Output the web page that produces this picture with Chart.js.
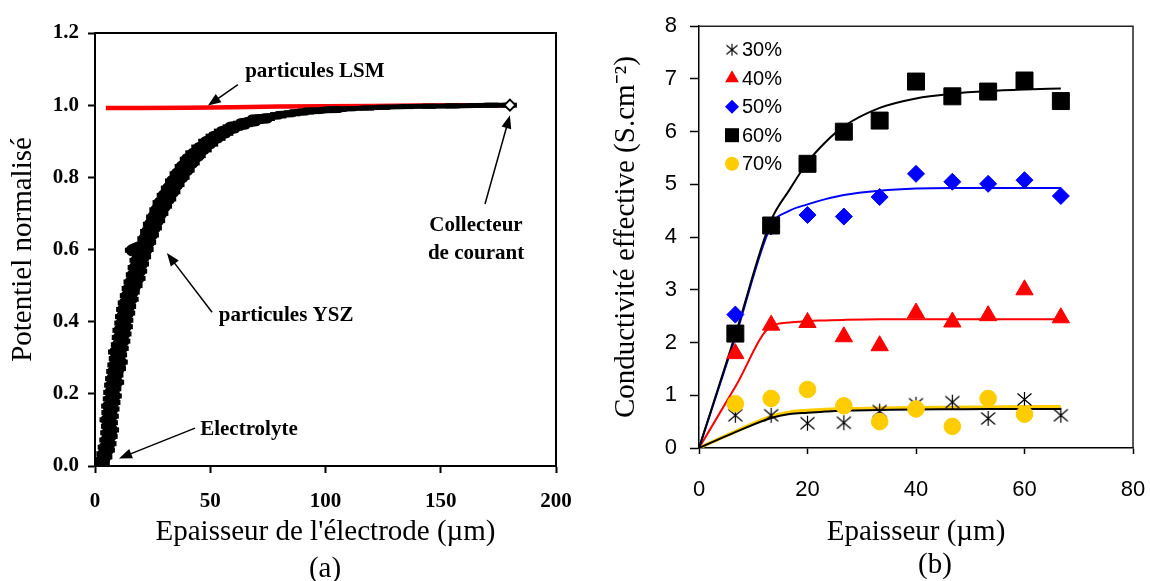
<!DOCTYPE html>
<html><head><meta charset="utf-8">
<script src="https://cdn.jsdelivr.net/npm/chart.js@4.4.1/dist/chart.umd.min.js"></script>
<style>
html,body{margin:0;padding:0;background:#fff;overflow:hidden;width:1150px;height:581px}
#ca{position:absolute;left:0;top:0}
#cb{position:absolute;left:575px;top:0}
</style>
</head><body>
<canvas id="ca" width="575" height="581"></canvas>
<canvas id="cb" width="575" height="581"></canvas>
<script>
// ---------- Panel (a) data ----------
const yszX = [2.0,3.4,2.6,4.5,3.6,5.6,4.2,6.3,4.9,6.8,5.3,7.4,5.6,6.9,5.0,7.3,5.8,7.6,5.7,8.0,6.4,8.6,6.6,8.4,7.0,9.6,7.4,9.3,7.9,10.4,8.4,11.2,9.0,10.9,8.7,11.6,9.9,12.3,10.3,12.8,10.6,13.4,11.4,13.6,11.7,14.4,12.2,14.8,12.9,15.9,13.8,16.4,14.6,17.6,15.4,18.9,16.4,19.6,17.2,20.4,18.0,21.3,19.2,22.4,16.0,20.3,23.5,21.4,24.7,22.6,26.0,23.8,27.4,25.2,28.8,26.6,30.4,28.0,32.2,29.8,34.0,31.6,35.8,33.4,38.0,35.4,40.2,37.6,42.4,39.8,45.0,42.2,47.6,44.8,50.4,47.8,53.6,51.0,57.0,54.6,61.0,58.4,65.4,63.0,70.0,68.0,75.0,73.0,80.0,79.0,86.0,85.0,92.0,91.0,98.0,100.0,106.0,110.0,118.0,125.0,135.0,145.0,155.0,165.0,172.0,180.0];
const yszY = [0.000,0.008,0.016,0.025,0.034,0.044,0.052,0.062,0.072,0.082,0.092,0.100,0.110,0.120,0.128,0.138,0.148,0.158,0.166,0.176,0.186,0.194,0.204,0.214,0.224,0.232,0.242,0.252,0.262,0.270,0.280,0.288,0.298,0.308,0.316,0.326,0.336,0.346,0.356,0.366,0.376,0.386,0.396,0.404,0.414,0.424,0.434,0.442,0.452,0.462,0.472,0.482,0.492,0.500,0.510,0.520,0.530,0.540,0.550,0.560,0.570,0.580,0.590,0.600,0.598,0.610,0.620,0.630,0.640,0.650,0.660,0.670,0.680,0.690,0.700,0.710,0.720,0.730,0.740,0.750,0.760,0.770,0.780,0.790,0.800,0.810,0.820,0.830,0.840,0.850,0.860,0.868,0.876,0.884,0.892,0.900,0.908,0.914,0.922,0.928,0.936,0.940,0.946,0.950,0.955,0.960,0.963,0.967,0.970,0.974,0.976,0.979,0.981,0.984,0.985,0.987,0.988,0.990,0.992,0.994,0.996,0.997,0.998,0.999,1.000,1.000];
const lsmX = [4.7,20,40,60,80,100,120,140,160,180];
const lsmY = [0.992,0.992,0.993,0.994,0.996,0.997,0.998,0.999,1.0,1.0];
const collX = [180];
const collY = [1.0];
const aXTicks = [0,50,100,150,200];
const aYTicks = [0,0.2,0.4,0.6,0.8,1.0,1.2];

// ---------- Panel (b) data ----------
const thickness = [6.7,13.3,20,26.7,33.3,40,46.7,53.3,60,66.7];
const s30 = [0.62,0.62,0.47,0.48,0.70,0.83,0.87,0.56,0.92,0.62];
const s40 = [1.79,2.33,2.38,2.11,1.94,2.56,2.39,2.51,3.00,2.47];
const s50 = [2.53,4.20,4.42,4.39,4.76,5.20,5.05,5.01,5.08,4.78];
const s60 = [2.17,4.22,5.39,6.00,6.21,6.95,6.67,6.76,6.97,6.58];
const s70 = [0.84,0.94,1.11,0.80,0.50,0.74,0.41,0.94,0.64,null];
const seriesLabels = ['30%','40%','50%','60%','70%'];
const fitX  = [0,6.7,13.3,16.7,20,23.3,26.7,33.3,40,46.7,53.3,60,66.7];
const fit30 = [0,0.30,0.57,0.645,0.67,0.69,0.71,0.72,0.73,0.735,0.74,0.74,0.74];
const fit40 = [0,1.16,2.31,2.38,2.41,2.42,2.43,2.44,2.44,2.44,2.44,2.44,2.44];
const fit50 = [0,2.10,4.22,4.50,4.62,4.72,4.80,4.88,4.92,4.93,4.93,4.93,4.93];
const fit60 = [0,2.15,4.32,4.90,5.42,5.80,6.10,6.45,6.63,6.72,6.77,6.80,6.82];
const fit70 = [0,0.31,0.60,0.68,0.71,0.73,0.74,0.755,0.765,0.77,0.775,0.78,0.78];
const bXTicks = [0,20,40,60,80];
const bYTicks = [0,1,2,3,4,5,6,7,8];

// ---------- helpers ----------
const serif = "'Liberation Serif','Times New Roman',serif";
const sans = "'Liberation Sans',Arial,sans-serif";
const pts = (xs, ys) => xs.map((x, i) => ({x, y: ys[i]})).filter(p => p.y !== null && p.y !== undefined);

function makeAsterisk(size, lw) {
  const c = document.createElement('canvas');
  c.width = size; c.height = size;
  const g = c.getContext('2d');
  g.strokeStyle = '#000'; g.lineWidth = lw;
  const m = 1.5, s = size - 1.5;
  g.beginPath();
  g.moveTo(m, m + 1); g.lineTo(s, s - 1);
  g.moveTo(s, m + 1); g.lineTo(m, s - 1);
  g.moveTo(size / 2, m - 0.5); g.lineTo(size / 2, s + 0.5);
  g.stroke();
  return c;
}
const asterisk = makeAsterisk(17, 1.2);
const asteriskSmall = makeAsterisk(14, 1.1);

function arrow(ctx, x1, y1, x2, y2) {
  const ang = Math.atan2(y2 - y1, x2 - x1);
  const L = 13, W = 5;
  ctx.beginPath();
  ctx.moveTo(x1, y1);
  ctx.lineTo(x2 - Math.cos(ang) * L * 0.8, y2 - Math.sin(ang) * L * 0.8);
  ctx.stroke();
  ctx.beginPath();
  ctx.moveTo(x2, y2);
  ctx.lineTo(x2 - Math.cos(ang) * L + Math.sin(ang) * W, y2 - Math.sin(ang) * L - Math.cos(ang) * W);
  ctx.lineTo(x2 - Math.cos(ang) * L - Math.sin(ang) * W, y2 - Math.sin(ang) * L + Math.cos(ang) * W);
  ctx.closePath();
  ctx.fill();
}

// annotation layout for panel (a) (data coordinates)
const arrowsA = [
  [62.0, 1.057, 49.0, 0.999],
  [169.2, 0.726, 180.0, 0.972],
  [50.8, 0.426, 31.2, 0.590],
  [43.4, 0.105, 10.4, 0.021]
];
const notesA = [
  {t: 'particules LSM', x: 95.4, y: 1.093},
  {t: 'Collecteur', x: 165.3, y: 0.665},
  {t: 'de courant', x: 165.3, y: 0.590},
  {t: 'particules YSZ', x: 82.9, y: 0.418},
  {t: 'Electrolyte', x: 66.8, y: 0.102}
];

const boxPlugin = (lw, color, caption, cx, cy) => ({
  id: 'box',
  afterDraw(chart) {
    const {ctx, chartArea: a} = chart;
    ctx.save();
    ctx.strokeStyle = color; ctx.lineWidth = lw;
    ctx.beginPath();
    ctx.moveTo(a.left, a.top); ctx.lineTo(a.right, a.top); ctx.lineTo(a.right, a.bottom);
    ctx.stroke();
    ctx.fillStyle = '#000';
    ctx.font = `29px ${serif}`;
    ctx.textAlign = 'center'; ctx.textBaseline = 'middle';
    ctx.fillText(caption, cx, cy);
    ctx.restore();
  }
});

const annotA = {
  id: 'annotA',
  afterDatasetsDraw(chart) {
    const {ctx, scales: {x, y}} = chart;
    ctx.save();
    ctx.strokeStyle = '#000'; ctx.fillStyle = '#000'; ctx.lineWidth = 1.5;
    arrowsA.forEach(a => arrow(ctx, x.getPixelForValue(a[0]), y.getPixelForValue(a[1]), x.getPixelForValue(a[2]), y.getPixelForValue(a[3])));
    ctx.font = `bold 21px ${serif}`;
    ctx.textAlign = 'center'; ctx.textBaseline = 'middle';
    notesA.forEach(n => ctx.fillText(n.t, x.getPixelForValue(n.x), y.getPixelForValue(n.y)));
    ctx.restore();
  }
};

function drawMarker(ctx, style, color, x, y) {
  ctx.save();
  ctx.fillStyle = color;
  ctx.beginPath();
  if (style === 'triangle') {
    const r = 8;
    ctx.moveTo(x, y - r);
    ctx.lineTo(x + r * 0.866, y + r * 0.5);
    ctx.lineTo(x - r * 0.866, y + r * 0.5);
    ctx.closePath(); ctx.fill();
  } else if (style === 'rectRot') {
    const r = 7;
    ctx.moveTo(x, y - r); ctx.lineTo(x + r, y); ctx.lineTo(x, y + r); ctx.lineTo(x - r, y);
    ctx.closePath(); ctx.fill();
  } else if (style === 'rect') {
    ctx.rect(x - 7, y - 7, 14, 14); ctx.fill();
  } else if (style === 'circle') {
    ctx.arc(x, y, 7, 0, Math.PI * 2); ctx.fill();
  } else {
    ctx.drawImage(asteriskSmall, x - 7, y - 7);
  }
  ctx.restore();
}

const legendB = {
  id: 'legendB',
  afterDraw(chart) {
    const {ctx, chartArea: a} = chart;
    ctx.save();
    ctx.font = `20px ${sans}`;
    ctx.fillStyle = '#000';
    ctx.textAlign = 'left'; ctx.textBaseline = 'middle';
    chart.data.datasets.slice(0, 5).forEach((ds, i) => {
      const cy = a.top + 23.5 + i * 28.5;
      const cx = a.left + 33;
      drawMarker(ctx, ds.legendStyle, ds.backgroundColor, cx, cy);
      ctx.fillStyle = '#000';
      ctx.fillText(ds.label, cx + 10, cy + 1);
    });
    ctx.restore();
  }
};

const noEdgePad = s => { s.paddingLeft = 0; s.paddingRight = 0; };

Chart.defaults.font.family = serif;
Chart.defaults.color = '#000';

// ---------- Chart (a) ----------
new Chart(document.getElementById('ca'), {
  type: 'scatter',
  data: {
    datasets: [
      {label: 'Collecteur de courant', data: pts(collX, collY), pointStyle: 'rectRot', pointRadius: 5.5,
       pointBorderWidth: 2, pointBorderColor: '#000', pointBackgroundColor: '#fff', showLine: false, order: 0},
      {label: 'particules YSZ', data: pts(yszX, yszY), showLine: true, borderColor: '#000', borderWidth: 11,
       borderJoinStyle: 'round', borderCapStyle: 'round', tension: 0,
       pointStyle: 'line', pointRadius: 7, pointBorderWidth: 5, pointBorderColor: '#000', pointBackgroundColor: '#000',
       segment: {borderWidth: c => c.p0.parsed.x > 100 ? 5 : (c.p0.parsed.x > 70 ? 7 : (c.p0.parsed.x > 40 ? 10 : 12))}, order: 1},
      {label: 'particules LSM', data: pts(lsmX, lsmY), showLine: true, borderColor: '#ff0000', borderWidth: 4.5,
       pointRadius: 0, tension: 0, order: 2}
    ]
  },
  options: {
    responsive: false, animation: false, devicePixelRatio: 1,
    layout: {padding: {left: 0, top: 33, right: 19, bottom: 0}},
    plugins: {legend: {display: false}, tooltip: {enabled: false}},
    scales: {
      x: {
        type: 'linear', min: 0, max: 200,
        afterBuildTicks: s => { s.ticks = aXTicks.map(v => ({value: v})); },
        afterFit: s => { s.height = 115; noEdgePad(s); },
        ticks: {font: {family: serif, size: 21, weight: 'bold'}, color: '#000', padding: 16, maxRotation: 0, autoSkip: false},
        grid: {drawOnChartArea: false, color: '#000', tickLength: 7, tickWidth: 2},
        border: {color: '#000', width: 2},
        title: {display: true, text: "Epaisseur de l'électrode (µm)", font: {family: serif, size: 29}, color: '#000', padding: {top: 0, bottom: 31.6}}
      },
      y: {
        type: 'linear', min: 0, max: 1.2,
        afterBuildTicks: s => { s.ticks = aYTicks.map(v => ({value: v})); },
        afterFit: s => { s.width = 95; },
        ticks: {font: {family: serif, size: 21, weight: 'bold'}, color: '#000', padding: 9, callback: v => Number(v).toFixed(1)},
        grid: {drawOnChartArea: false, color: '#000', tickLength: 7, tickWidth: 2},
        border: {color: '#000', width: 2},
        title: {display: true, text: 'Potentiel normalisé', font: {family: serif, size: 29}, color: '#000', padding: {top: 5.6, bottom: 0}}
      }
    }
  },
  plugins: [annotA, boxPlugin(2, '#000', '(a)', 325, 569)]
});

// ---------- Chart (b) ----------
const mk = (label, ys, style, color, r, order) => ({
  label, data: pts(thickness, ys), showLine: false, pointStyle: style, legendStyle: typeof style === 'string' ? style : 'asterisk',
  pointRadius: r, pointBackgroundColor: color, pointBorderColor: color, pointBorderWidth: 1, backgroundColor: color, borderColor: color, order
});
const fit = (label, ys, color, w, order) => ({
  label, data: pts(fitX, ys), showLine: true, pointRadius: 0, borderColor: color, borderWidth: w,
  cubicInterpolationMode: 'monotone', order
});

new Chart(document.getElementById('cb'), {
  type: 'scatter',
  data: {
    datasets: [
      mk(seriesLabels[0], s30, asterisk, '#000000', 8, 5),
      mk(seriesLabels[1], s40, 'triangle', '#ff0000', 10, 4),
      mk(seriesLabels[2], s50, 'rectRot', '#0000ff', 8.5, 3),
      mk(seriesLabels[3], s60, 'rect', '#000000', 12, 2),
      mk(seriesLabels[4], s70, 'circle', '#ffcc00', 8.3, 1),
      fit('fit 30%', fit30, '#000000', 2, 6),
      fit('fit 60%', fit60, '#000000', 2, 6),
      fit('fit 50%', fit50, '#0000ff', 2, 7),
      fit('fit 40%', fit40, '#ff0000', 2, 7),
      fit('fit 70%', fit70, '#ffcc00', 3.5, 9)
    ]
  },
  options: {
    responsive: false, animation: false, devicePixelRatio: 1,
    layout: {padding: {left: 0, top: 20, right: 17, bottom: 0}},
    plugins: {legend: {display: false}, tooltip: {enabled: false}},
    scales: {
      x: {
        type: 'linear', min: 0, max: 80,
        afterBuildTicks: s => { s.ticks = bXTicks.map(v => ({value: v})); },
        afterFit: s => { s.height = 133; noEdgePad(s); },
        ticks: {font: {family: sans, size: 22}, color: '#000', padding: 23, maxRotation: 0, autoSkip: false},
        grid: {drawOnChartArea: false, color: '#000', tickLength: 6, tickWidth: 1.5},
        border: {color: '#000', width: 1.5},
        title: {display: true, text: 'Epaisseur (µm)', font: {family: serif, size: 29}, color: '#000', padding: {top: 0, bottom: 31.6}}
      },
      y: {
        type: 'linear', min: 0, max: 8,
        afterBuildTicks: s => { s.ticks = bYTicks.map(v => ({value: v})); },
        afterFit: s => { s.width = 124; },
        ticks: {font: {family: sans, size: 22}, color: '#000', padding: 13},
        grid: {drawOnChartArea: false, color: '#000', tickLength: 9, tickWidth: 1.5},
        border: {color: '#000', width: 1.5},
        title: {display: true, text: 'Conductivité effective (S.cm⁻²)', font: {family: serif, size: 29}, color: '#000', padding: {top: 33.5, bottom: 0}}
      }
    }
  },
  plugins: [legendB, boxPlugin(1.5, '#222', '(b)', 360, 565)]
});
</script>
</body></html>
